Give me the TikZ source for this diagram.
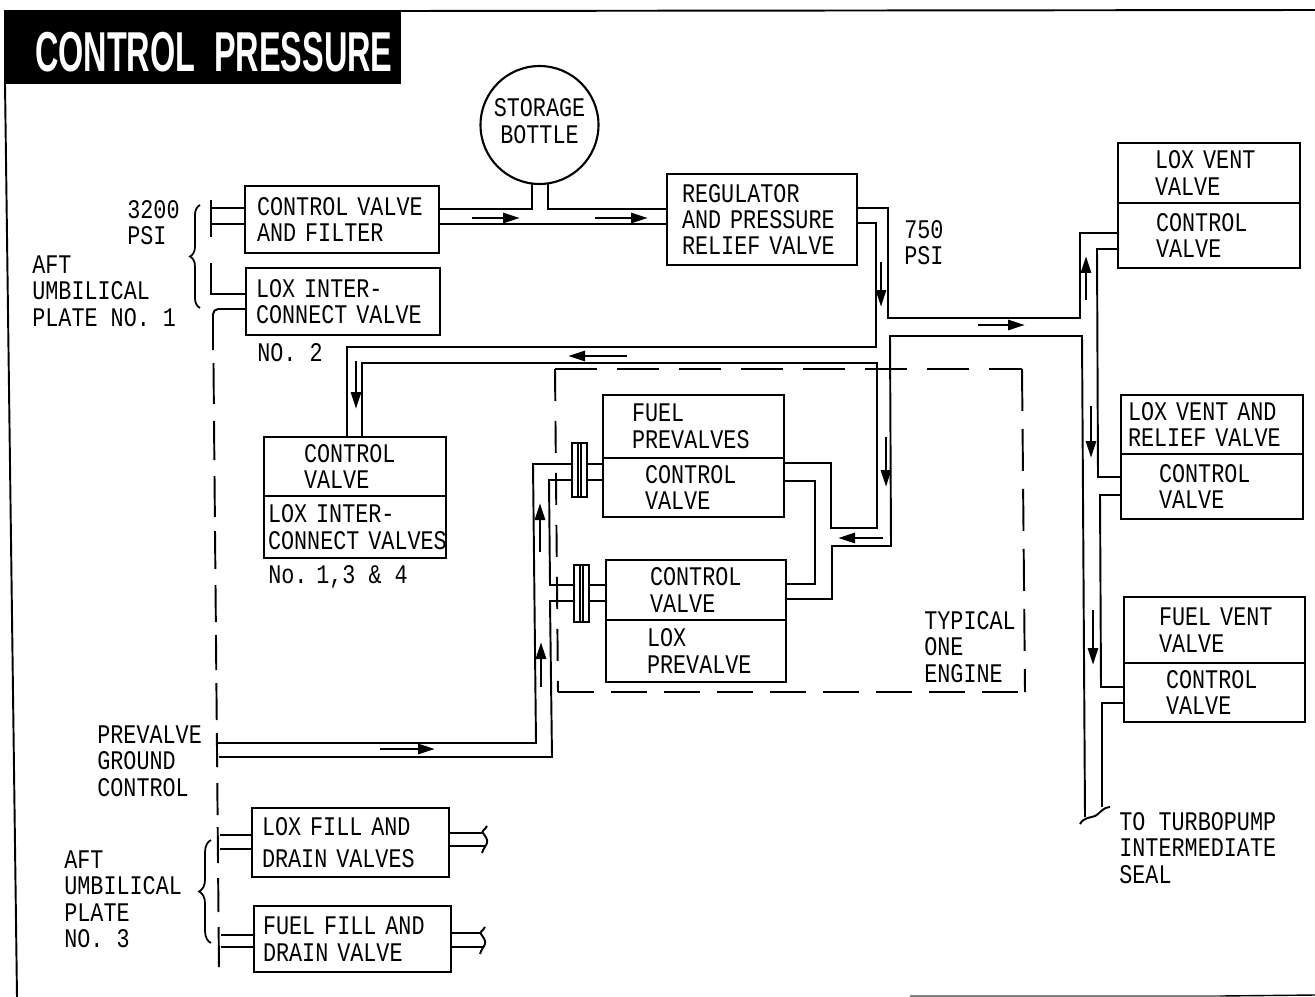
\documentclass[tikz,border=0pt]{standalone}
\usepackage{fontspec}
\setmainfont[FakeStretch=0.81]{Liberation Mono}
\newfontfamily\bannerfont[FakeStretch=0.577]{Liberation Sans Bold}
\usetikzlibrary{arrows.meta, positioning, decorations.pathreplacing}
\tikzset{
  pipe/.style={line width=1.1pt},
  flow/.style={-{Stealth[length=3.4mm, width=2mm, inset=0pt]}, line width=1.6pt},
  engineDash/.style={line width=1.1pt},
  braceLine/.style={line width=1pt, decorate, decoration={brace, amplitude=#1}},
  boxA/.style={rectangle, draw, line width=1.4pt, outer sep=0pt, inner ysep=0pt, align=left},
  valve/.code n args={3}{%
    \pgfmathsetlengthmacro{\valveTw}{(#1-2*#3)*0.02cm}%
    \pgfmathsetlengthmacro{\valveSep}{#3*0.02cm}%
    \pgfkeysalso{minimum width=#1*0.02cm, minimum height=#2*0.02cm,
      text width=\valveTw, inner xsep=\valveSep}},
  plate/.style={rectangle, draw, fill=white, line width=1.1pt, outer sep=0pt, inner sep=0pt,
                minimum width=0.3cm},
  lbl/.style={inner sep=0pt, anchor=west, align=left},
  titleBar/.style={boxA, fill=black, text=white, text height=28.2pt,
                   font=\bannerfont\fontsize{32}{32}\selectfont},
  breakMark/.pic={\draw[pipe] (4,-7) .. controls (2,-3) and (-2,-2) .. (0,0)
      .. controls (2,3) and (5,6) .. (4,10) .. controls (3,13) and (0,16) .. (-1,20);},
}
\begin{document}
\begin{tikzpicture}[x=0.02cm, y=-0.02cm, font=\fontsize{15.3}{15.07}\selectfont]
    \useasboundingbox (0,0) rectangle (1315,997);
    \node[titleBar, valve={395}{72}{30}] (title) at (202.5,47) {\mbox{CONTROL PRESSURE}};
    \draw[pipe] (title.north east) -- (1315,10);
    \draw[pipe] (title.south west) -- (17,997);
    \draw[line width=0.8pt, gray] (910,996) -- (1220,996);
    \draw[line width=0.8pt] (1220,996) -- (1315,995);

    \draw[engineDash, dash pattern=on 0.84cm off 0.4cm] (555,369) -- (1022,369);
    \draw[engineDash, dash pattern=on 0.84cm off 0.36cm] (1022,369) -- (1025,692);
    \draw[engineDash, dash pattern=on 0.72cm off 0.34cm] (558,692) -- (1025,692);
    \draw[engineDash, dash pattern=on 0.64cm off 0.4cm] (555,369) -- (558,692);

    \node[circle, draw, line width=1.2pt, outer sep=0pt, inner sep=0pt, align=center,
          text depth=4.5pt, minimum size=2.36cm] (bottle) at (539.5,125) {STORAGE\\BOTTLE};
    \node[boxA, valve={194}{67}{12}] (ctrlFilter) at (342,219.5) {CONTROL VALVE\\AND  FILTER};
    \node[boxA, valve={194}{67}{10}] (loxInterB) at (343,301.5) {LOX INTER-\\CONNECT VALVE};
    \node[boxA, valve={190}{91}{15}] (regBox) at (762,219.5) {REGULATOR\\AND PRESSURE\\RELIEF VALVE};

    \node[boxA, valve={182}{59}{40}] (midCtrl) at (355,466.5) {CONTROL\\VALVE};
    \node[boxA, valve={182}{62}{4}, below=0pt of midCtrl] (midInter) {LOX INTER-\\CONNECT~VALVES};

    \node[boxA, valve={181}{63}{29}] (fuelPre) at (693.5,426.5) {FUEL\\PREVALVES};
    \node[boxA, valve={181}{59}{42}, below=0pt of fuelPre] (fuelCtrl) {CONTROL\\VALVE};
    \node[boxA, valve={180}{60}{44}] (loxCtrl) at (696,590) {CONTROL\\VALVE};
    \node[boxA, valve={180}{62}{41}, below=0pt of loxCtrl] (loxPre) {LOX\\PREVALVE};

    \node[boxA, valve={182}{60}{37}] (ventA) at (1209,173) {LOX VENT\\VALVE};
    \node[boxA, valve={182}{65}{38}, below=0pt of ventA] (ventACtrl) {CONTROL\\VALVE};
    \node[boxA, valve={182}{59}{7}] (ventB) at (1212,424.5) {LOX VENT AND\\RELIEF VALVE};
    \node[boxA, valve={182}{65}{38}, below=0pt of ventB] (ventBCtrl) {CONTROL\\VALVE};
    \node[boxA, valve={181}{66}{35}] (ventC) at (1214.5,630) {FUEL~VENT\\VALVE};
    \node[boxA, valve={181}{59}{42}, below=0pt of ventC] (ventCCtrl) {CONTROL\\VALVE};

    \node[boxA, valve={197}{69}{10}] (fillLox) at (350.5,842.5) {LOX FILL AND\\[3.3pt]DRAIN VALVES};
    \node[boxA, valve={197}{66}{9}] (fillFuel) at (352.5,939) {FUEL FILL AND\\DRAIN VALVE};

    \node[plate, minimum height=1.08cm] (plateA) at (579.5,470) {};
    \node[plate, minimum height=1.14cm] (plateB) at (581.5,593.5) {};
    \foreach \p in {plateA, plateB} {
      \draw[pipe] ([xshift=-0.7pt]\p.north) -- ([xshift=-0.7pt]\p.south);
      \draw[pipe] ([xshift=0.7pt]\p.north) -- ([xshift=0.7pt]\p.south);
    }

    \node[lbl] (psiIn) at (127,222.5) {3200\\PSI};
    \node[lbl] (aftOne) at (32,291) {AFT\\UMBILICAL\\PLATE NO. 1};
    \node[lbl] (noTwo) at (257,353) {NO. 2};
    \node[lbl] (noMany) at (268,577) {No.\hspace{5pt}1,3 \& 4};
    \node[lbl] (psiOut) at (904,242.5) {750\\PSI};
    \node[lbl] (typEngine) at (924,647) {TYPICAL\\ONE\\ENGINE};
    \node[lbl] (preGround) at (97,761) {PREVALVE\\GROUND\\CONTROL};
    \node[lbl] (aftThree) at (64,899.5) {AFT\\UMBILICAL\\PLATE\\NO. 3};
    \node[lbl] (sealNote) at (1119,848) {TO TURBOPUMP\\INTERMEDIATE\\SEAL};

    \draw[braceLine=5.7pt] (200,308) -- (200,205);
    \draw[braceLine=6.8pt] (211,943) -- (211,840);

    \coordinate (tickTop) at (211,200);
    \coordinate (tickBot) at (211,237);
    \draw[pipe] (tickTop) -- (tickBot);
    \draw[pipe] (ctrlFilter.west |- 0,208) -- (tickTop |- 0,208);
    \draw[pipe] (ctrlFilter.west |- 0,224) -- (tickTop |- 0,224);
    \draw[pipe] (loxInterB.west |- 0,294) -| (211,263);
    \draw[pipe, rounded corners=3] (loxInterB.west |- 0,309) -| (213,350);
    \foreach \ya/\yb in {363/404, 421/460, 476/517, 531/569, 585/622, 635/670, 683/720,
                         733/767, 783/815, 827/863, 878/912, 927/967} {
      \draw[pipe] ({213+(\ya-310)*0.0091},\ya) -- ({213+(\yb-310)*0.0091},\yb);
    }

    \draw[pipe] (ctrlFilter.east |- 0,209) -| (bottle.263);
    \draw[pipe] (bottle.278) |- (regBox.west |- 0,209);
    \draw[pipe] (ctrlFilter.east |- 0,224) -- (regBox.west |- 0,224);

    \draw[pipe] (regBox.east |- 0,208) -| (888,318) -- (1080,318) |- (ventACtrl.west |- 0,233);
    \draw[pipe] (regBox.east |- 0,223) -| (876,347) -| (midCtrl.north -| 347,0);
    \draw[pipe] (midCtrl.north -| 362,0) |- (877,363) |- (831,528) |- (fuelCtrl.east |- 0,463);
    \draw[pipe] (fuelCtrl.east |- 0,481) -| (815,584) -- (loxCtrl.east |- 0,584);
    \draw[pipe] (loxCtrl.east |- 0,599) -| (832,546) -- (891,546) -- (890,336) -- (1082,336) -- (1085,817);
    \draw[pipe] (ventACtrl.west |- 0,249) -- (1097,249) -- (1098,477) -- (ventBCtrl.west |- 0,477);
    \draw[pipe] (ventBCtrl.west |- 0,495) -- (1100,495) -- (1101,687) -- (ventCCtrl.west |- 0,687);
    \draw[pipe] (ventCCtrl.west |- 0,703) -- (1102,703) -- (1102,807);
    \draw[pipe] (1080,824) .. controls (1084,817) and (1090,818) .. (1095,816)
       .. controls (1100,814) and (1101,808) .. (1110,807);

    \draw[pipe] (plateA.east |- 0,464) -- (fuelCtrl.west |- 0,464);
    \draw[pipe] (plateA.east |- 0,480) -- (fuelCtrl.west |- 0,480);
    \draw[pipe] (plateB.east |- 0,585) -- (loxCtrl.west |- 0,585);
    \draw[pipe] (plateB.east |- 0,601) -- (loxCtrl.west |- 0,601);
    \draw[pipe] (218,743) -- (536,743) -- (533,464) -- (plateA.west |- 0,464);
    \draw[pipe] (219,757) -- (552,757) -- (550,601) -- (plateB.west |- 0,601);
    \draw[pipe] (plateB.west |- 0,585) -- (550,585) -- (549,480) -- (plateA.west |- 0,480);

    \draw[pipe] (fillLox.west |- 0,835) -- (220,835);
    \draw[pipe] (fillLox.west |- 0,849) -- (220,849);
    \draw[pipe] (fillFuel.west |- 0,935) -- (221,935);
    \draw[pipe] (fillFuel.west |- 0,947) -- (221,947);
    \draw[pipe] (fillLox.east |- 0,833) -- (483,833);
    \draw[pipe] (fillLox.east |- 0,846) -- (485,846);
    \draw[pipe] (fillFuel.east |- 0,933) -- (481,933);
    \draw[pipe] (fillFuel.east |- 0,947) -- (483,947);
    \pic at (483,833) {breakMark};
    \pic at (481,934) {breakMark};

    \foreach \xa/\ya/\xb/\yb in {472/218/520/218, 595/218/648/218, 881/262/881/307,
        978/325/1025/325, 1086/300/1086/256, 1091/406/1091/458, 1093/610/1093/665,
        627/356/568/356, 356/361/356/409, 886/437/886/487, 883/538/838/538,
        540/552/540/503, 541/687/541/642, 380/749/435/749} {
      \draw[flow] (\xa,\ya) -- (\xb,\yb);
    }
  \end{tikzpicture}
\end{document}
